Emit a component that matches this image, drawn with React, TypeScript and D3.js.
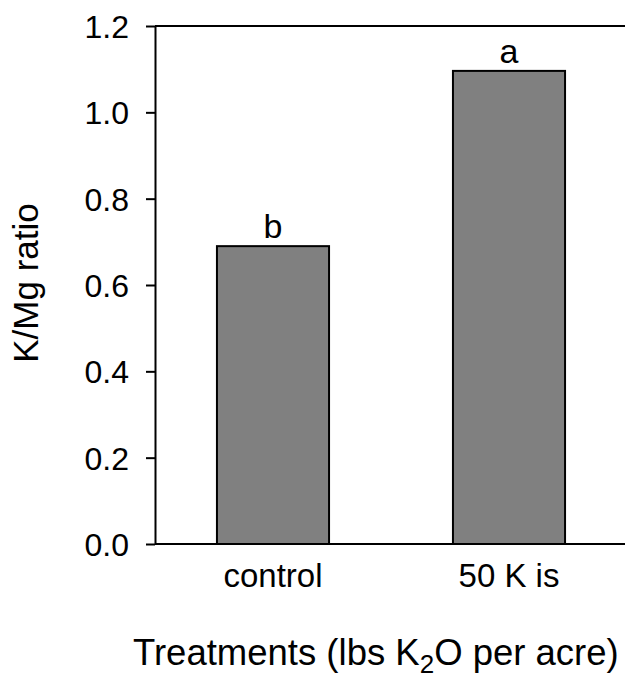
import React, { useEffect, useRef } from 'react'
import * as d3 from 'd3'

const WIDTH = 625
const HEIGHT = 674
const margin = { top: 26, right: -2, bottom: 130, left: 155 }
const FONT = '"Liberation Sans", Arial, sans-serif'

const treatments = ['control', '50 K is']
const ratios = [0.69, 1.096]
const letters = ['b', 'a']
const yTicks = [0, 0.2, 0.4, 0.6, 0.8, 1.0, 1.2]

export default function App() {
  const axisRef = useRef<SVGGElement>(null)

  const x = d3.scaleBand<string>()
    .domain(treatments)
    .range([margin.left, WIDTH - margin.right])
    .paddingInner(0.525)
    .paddingOuter(0.2625)
  const y = d3.scaleLinear()
    .domain([0, 1.2])
    .range([HEIGHT - margin.bottom, margin.top])

  useEffect(() => {
    const g = d3.select(axisRef.current)
    g.selectAll('*').remove()
    const yAxis = g.append('g')
      .attr('transform', `translate(${margin.left},0)`)
      .call(d3.axisLeft(y).tickValues(yTicks).tickFormat(d3.format('.1f')).tickSizeInner(9).tickSizeOuter(0))
    yAxis.select('.domain').attr('stroke-width', 2)
    yAxis.selectAll('.tick line').attr('stroke-width', 2)
    yAxis.selectAll('.tick text')
      .attr('x', -26)
      .attr('dy', '0.36em')
      .attr('font-size', 32)
      .attr('font-family', FONT)
      .attr('fill', '#000')
  }, [])

  return (
    <svg width={WIDTH} height={HEIGHT} style={{ position: 'absolute', left: 0, top: 0 }}>
      <rect width={WIDTH} height={HEIGHT} fill="#fff" />
      {treatments.map((t, i) => (
        <g key={t}>
          <rect x={x(t)} y={y(ratios[i])} width={x.bandwidth()} height={y(0) - y(ratios[i])}
            fill="#808080" stroke="#000" strokeWidth={2} />
          <text x={x(t)! + x.bandwidth() / 2} y={y(ratios[i]) - 8} textAnchor="middle"
            fontSize={34} fontFamily={FONT}>{letters[i]}</text>
          <text x={x(t)! + x.bandwidth() / 2} y={587} textAnchor="middle"
            fontSize={33} fontFamily={FONT}>{t}</text>
        </g>
      ))}
      {/* bottom axis line and top frame line */}
      <line x1={margin.left} x2={WIDTH} y1={y(0)} y2={y(0)} stroke="#000" strokeWidth={2} />
      <line x1={margin.left} x2={WIDTH} y1={y(1.2)} y2={y(1.2)} stroke="#000" strokeWidth={2} />
      <g ref={axisRef} />
      <text transform="translate(38,283) rotate(-90)" textAnchor="middle" fontSize={35} fontFamily={FONT}>K/Mg ratio</text>
      <text x={133} y={665} fontSize={36.5} fontFamily={FONT}>
        Treatments (lbs K<tspan fontSize={26} dy={8}>2</tspan><tspan dy={-8}>O per acre)</tspan>
      </text>
    </svg>
  )
}
